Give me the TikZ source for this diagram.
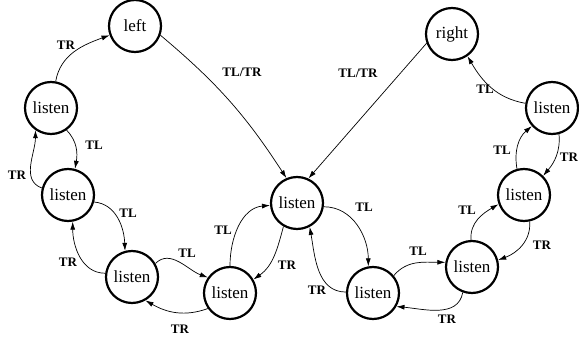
\documentclass[tikz,border=0pt]{standalone}
\usepackage{fontspec}
\setmainfont{Liberation Serif}
\usetikzlibrary{arrows.meta}
\begin{document}
\begin{tikzpicture}[x=1pt,y=1pt,
  state/.style={circle,draw,line width=2.2pt,minimum size=52pt,inner sep=0pt,
    font=\fontsize{17}{19}\selectfont},
  conn/.style={line width=0.7pt,-{Latex[length=8pt,width=5pt]}},
  lab/.style={font=\bfseries\fontsize{13}{14}\selectfont,inner sep=0pt}]
\useasboundingbox (0,0) rectangle (579,341);
% nodes
\node[state] (left)  at (135,315) {left};
\node[state] (right) at (452,307) {right};
\node[state] (L1) at (51,233) {listen};
\node[state] (L2) at (68,146) {listen};
\node[state] (L3) at (132,64) {listen};
\node[state] (L4) at (230,48) {listen};
\node[state] (C)  at (297,138) {listen};
\node[state] (R4) at (373,48) {listen};
\node[state] (R3) at (472,74) {listen};
\node[state] (R2) at (524,146) {listen};
\node[state] (R1) at (552,233) {listen};
% connectors
\draw[conn] (L1.80) to[out=80,in=200] (left.200);
\draw[conn] (left.-20) to[out=-40,in=123] (C.113);
\draw[conn] (right.200) -- (C.65);
\draw[conn] (L1.-55) to[out=-45,in=80] (L2.75);
\draw[conn] (L2.165) to[out=160,in=270] (L1.235);
\draw[conn] (L2.-15) to[out=-5,in=92] (L3.105);
\draw[conn] (L3.172) to[out=180,in=270] (L2.-80);
\draw[conn] (L3.30) to[out=45,in=160] (L4.145);
\draw[conn] (L4.215) to[out=200,in=-30] (L3.-60);
\draw[conn] (L4.90) to[out=90,in=185] (C.185);
\draw[conn] (C.240) to[out=255,in=35] (L4.30);
\draw[conn] (C.-8) to[out=0,in=90] (R4.100);
\draw[conn] (R4.178) to[out=180,in=280] (C.-62);
\draw[conn] (R4.40) to[out=50,in=180] (R3.170);
\draw[conn] (R3.250) to[out=260,in=-5] (R4.-30);
\draw[conn] (R3.92) to[out=95,in=210] (R2.200);
\draw[conn] (R2.-78) to[out=-85,in=20] (R3.15);
\draw[conn] (R2.105) to[out=100,in=220] (R1.222);
\draw[conn] (R1.-75) to[out=-85,in=50] (R2.45);
\draw[conn] (R1.170) to[out=170,in=-60] (right.-55);
% labels
\node[lab] (t1) at (66,296) {TR};
\node[lab] (t2) at (242,269) {TL/TR};
\node[lab] (t3) at (358,268) {TL/TR};
\node[lab] (t4) at (94,196) {TL};
\node[lab] (t5) at (17,166) {TR};
\node[lab] (t6) at (128,128) {TL};
\node[lab] (t7) at (68,79) {TR};
\node[lab] (t8) at (187,88) {TL};
\node[lab] (t9) at (180,12) {TR};
\node[lab] (t10) at (223,111) {TL};
\node[lab] (t11) at (287,76) {TR};
\node[lab] (t12) at (364,134) {TL};
\node[lab] (t13) at (317,51) {TR};
\node[lab] (t14) at (418,90) {TL};
\node[lab] (t15) at (447,22) {TR};
\node[lab] (t16) at (467,131) {TL};
\node[lab] (t17) at (542,96) {TR};
\node[lab] (t18) at (502,191) {TL};
\node[lab] (t19) at (569,184) {TR};
\node[lab] (t20) at (485,252) {TL};
\end{tikzpicture}
\end{document}
